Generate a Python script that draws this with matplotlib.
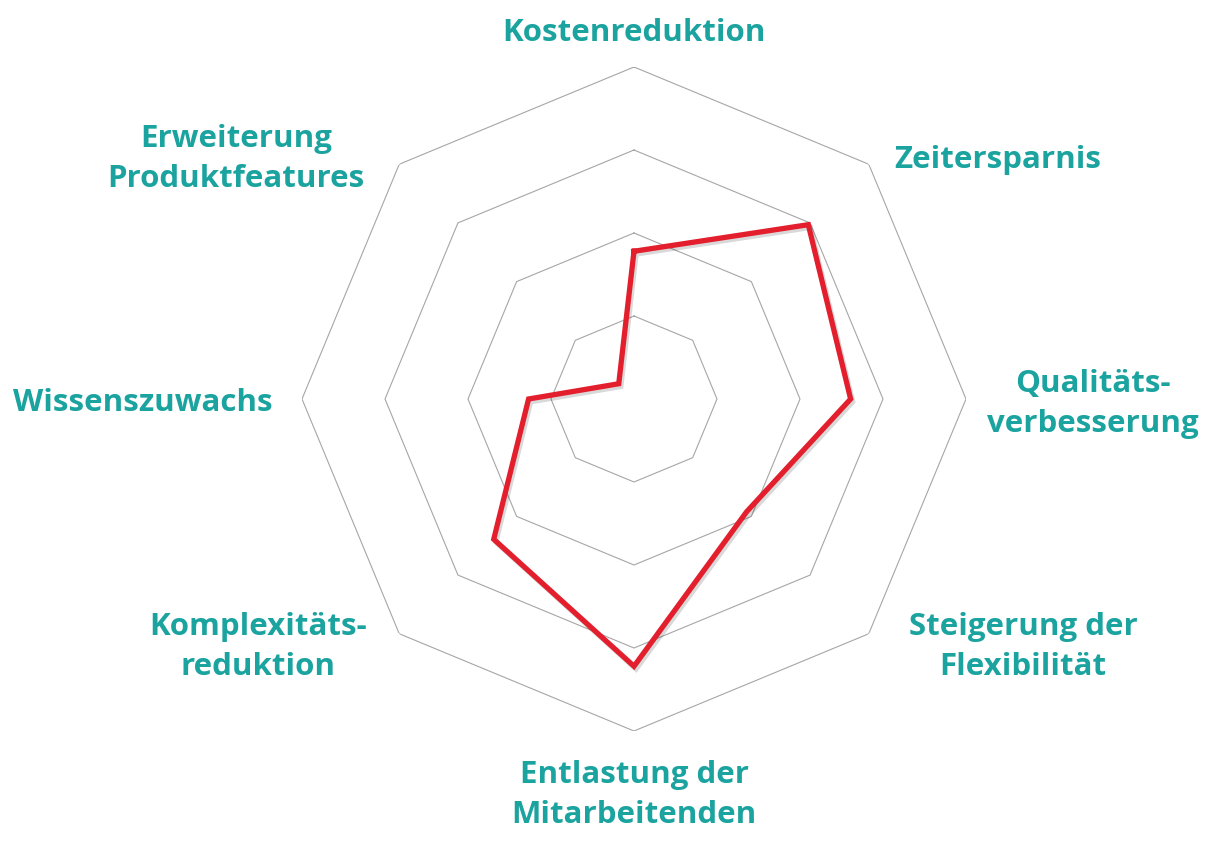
import numpy as np
import matplotlib.pyplot as plt
import matplotlib.patheffects as pe

categories = ['Kostenreduktion', 'Zeitersparnis', 'Qualitäts-\nverbesserung',
              'Steigerung der\nFlexibilität', 'Entlastung der\nMitarbeitenden',
              'Komplexitäts-\nreduktion', 'Wissenszuwachs', 'Erweiterung\nProduktfeatures']
values = [1.78, 2.97, 2.61, 1.92, 3.22, 2.39, 1.27, 0.26]
rings = [1, 2, 3, 4]

# label centers in pixels (x, y from top)
label_pos = [(634, 33), (998, 160), (1093, 404), (1023, 647),
             (634, 795), (258, 647), (143, 403), (236, 159)]

W, H = 1216, 845
teal = '#1BA39F'
red = '#E31E2D'
grey = '#A6A6A6'

fig = plt.figure(figsize=(W / 100, H / 100), dpi=100)
cx, cy, R = 634, 400, 332
ax = fig.add_axes([(cx - R) / W, (H - cy - R) / H, 2 * R / W, 2 * R / H], polar=True)
ax.set_theta_offset(np.pi / 2)
ax.set_theta_direction(-1)
ax.set_ylim(0, 4)
ax.axis('off')

n = len(categories)
angles = np.arange(n) * 2 * np.pi / n
closed = np.append(angles, angles[0])

for r in rings:
    ax.plot(closed, [r] * (n + 1), color=grey, lw=0.8, zorder=1)

vals = values + values[:1]
ax.plot(closed, vals, color=red, lw=3.8, solid_joinstyle='miter', zorder=3,
        path_effects=[pe.SimpleLineShadow(offset=(1.5, -2), alpha=0.15, rho=0.5),
                      pe.Normal()])

for lab, (px, py) in zip(categories, label_pos):
    fig.text(px / W, 1 - py / H, lab, ha='center', va='center', ma='center',
             fontsize=22.5, fontweight='bold', color=teal, family='Open Sans',
             linespacing=1.42)

fig.savefig('out.png', dpi=100)
